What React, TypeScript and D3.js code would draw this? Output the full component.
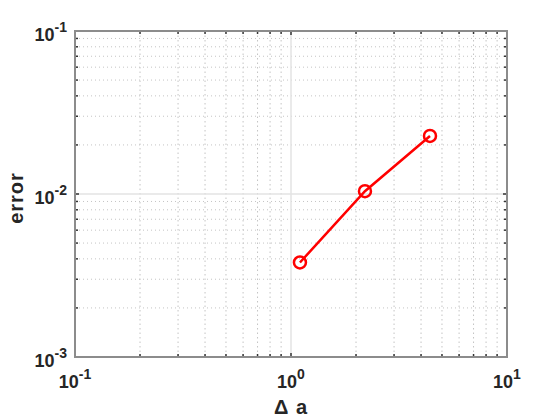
import * as d3 from "d3";
import { useEffect, useRef } from "react";

// data
const deltaA = [1.1, 2.2, 4.4];
const errorVals = [0.0038, 0.0104, 0.0227];
const xExponents = [-1, 0, 1];
const yExponents = [-3, -2, -1];

const App = () => {
  const svgRef = useRef<SVGSVGElement>(null);

  const renderSVG = () => {
    const dims = {
      width: 560,
      height: 420,
      margin: { top: 31, left: 75, right: 53, bottom: 63 },
    };
    const innerWidth = dims.width - dims.margin.left - dims.margin.right;
    const innerHeight = dims.height - dims.margin.top - dims.margin.bottom;

    const xScale = d3.scaleLog().domain([0.1, 10]).range([0, innerWidth]);
    const yScale = d3.scaleLog().domain([0.001, 0.1]).range([innerHeight, 0]);

    const isMajor = (v: number) => Math.abs(Math.log10(v) - Math.round(Math.log10(v))) < 1e-9;
    const xMinor = xScale.ticks().filter((v) => !isMajor(v));
    const yMinor = yScale.ticks().filter((v) => !isMajor(v));
    const xMajor = xExponents.map((e) => Math.pow(10, e));
    const yMajor = yExponents.map((e) => Math.pow(10, e));

    const root = d3.select(svgRef.current);
    root.selectAll("*").remove();
    root.attr("width", dims.width).attr("height", dims.height);

    const svg = root
      .append("g")
      .attr("transform", `translate(${dims.margin.left},${dims.margin.top})`);

    const gridColor = "#c4c4c4";

    // minor grid (dotted)
    svg
      .selectAll("line.xminor")
      .data(xMinor)
      .enter()
      .append("line")
      .attr("x1", (d) => xScale(d))
      .attr("x2", (d) => xScale(d))
      .attr("y1", 0)
      .attr("y2", innerHeight)
      .attr("stroke", gridColor)
      .attr("stroke-width", 1)
      .attr("stroke-dasharray", "1.5,3");
    svg
      .selectAll("line.yminor")
      .data(yMinor)
      .enter()
      .append("line")
      .attr("x1", 0)
      .attr("x2", innerWidth)
      .attr("y1", (d) => yScale(d))
      .attr("y2", (d) => yScale(d))
      .attr("stroke", gridColor)
      .attr("stroke-width", 1)
      .attr("stroke-dasharray", "1,3");

    // major grid (solid)
    svg
      .selectAll("line.xmajor")
      .data(xMajor)
      .enter()
      .append("line")
      .attr("x1", (d) => xScale(d))
      .attr("x2", (d) => xScale(d))
      .attr("y1", 0)
      .attr("y2", innerHeight)
      .attr("stroke", "#e3e3e3")
      .attr("stroke-width", 1.5);
    svg
      .selectAll("line.ymajor")
      .data(yMajor)
      .enter()
      .append("line")
      .attr("x1", 0)
      .attr("x2", innerWidth)
      .attr("y1", (d) => yScale(d))
      .attr("y2", (d) => yScale(d))
      .attr("stroke", "#e3e3e3")
      .attr("stroke-width", 1.5);

    // ticks, inside, on all four sides
    const tickColor = "#333333";
    const allX = xScale.ticks();
    const allY = yScale.ticks();
    const tickLen = (v: number) => (isMajor(v) ? 4 : 3);
    allX.forEach((v) => {
      svg.append("line")
        .attr("x1", xScale(v)).attr("x2", xScale(v))
        .attr("y1", innerHeight).attr("y2", innerHeight - tickLen(v))
        .attr("stroke", tickColor).attr("stroke-width", 1.5);
      svg.append("line")
        .attr("x1", xScale(v)).attr("x2", xScale(v))
        .attr("y1", 0).attr("y2", tickLen(v))
        .attr("stroke", tickColor).attr("stroke-width", 1.5);
    });
    allY.forEach((v) => {
      svg.append("line")
        .attr("x1", 0).attr("x2", tickLen(v))
        .attr("y1", yScale(v)).attr("y2", yScale(v))
        .attr("stroke", tickColor).attr("stroke-width", 1.5);
      svg.append("line")
        .attr("x1", innerWidth).attr("x2", innerWidth - tickLen(v))
        .attr("y1", yScale(v)).attr("y2", yScale(v))
        .attr("stroke", tickColor).attr("stroke-width", 1.5);
    });

    // axes box
    svg
      .append("rect")
      .attr("x", 0)
      .attr("y", 0)
      .attr("width", innerWidth)
      .attr("height", innerHeight)
      .attr("fill", "none")
      .attr("stroke", "#8c8c8c")
      .attr("stroke-width", 2);

    // tick labels
    const font = "Liberation Sans, Arial, sans-serif";
    const powLabel = (sel: any, e: number) => {
      sel.append("tspan").text("10");
      sel.append("tspan").attr("dy", -9).attr("font-size", 14).text(String(e));
    };
    xExponents.forEach((e) => {
      const t = svg
        .append("text")
        .attr("x", xScale(Math.pow(10, e)))
        .attr("y", innerHeight + 31)
        .attr("text-anchor", "middle")
        .attr("font-family", font)
        .attr("font-weight", "bold")
        .attr("font-size", 18)
        .attr("fill", "#262626");
      powLabel(t, e);
    });
    yExponents.forEach((e) => {
      const t = svg
        .append("text")
        .attr("x", -8)
        .attr("y", yScale(Math.pow(10, e)) + 9.5)
        .attr("text-anchor", "end")
        .attr("font-family", font)
        .attr("font-weight", "bold")
        .attr("font-size", 18)
        .attr("fill", "#262626");
      powLabel(t, e);
    });

    // axis labels
    svg
      .append("text")
      .attr("x", innerWidth / 2)
      .attr("y", innerHeight + 57)
      .attr("text-anchor", "middle")
      .attr("font-family", font)
      .attr("font-weight", "bold")
      .attr("font-size", 20)
      .attr("letter-spacing", 1)
      .attr("fill", "#262626")
      .text("\u0394 a");
    svg
      .append("text")
      .attr("transform", `translate(${23 - dims.margin.left},${innerHeight / 2 + 4}) rotate(-90)`)
      .attr("text-anchor", "middle")
      .attr("font-family", font)
      .attr("font-weight", "bold")
      .attr("font-size", 20)
      .attr("letter-spacing", 1)
      .attr("fill", "#262626")
      .text("error");

    // series
    const points = deltaA.map((x, i) => [x, errorVals[i]] as [number, number]);
    const line = d3
      .line<[number, number]>()
      .x((d) => xScale(d[0]))
      .y((d) => yScale(d[1]));
    svg
      .append("path")
      .datum(points)
      .attr("d", line)
      .attr("fill", "none")
      .attr("stroke", "#ff0000")
      .attr("stroke-width", 2.5);
    svg
      .selectAll("circle")
      .data(points)
      .enter()
      .append("circle")
      .attr("cx", (d) => xScale(d[0]))
      .attr("cy", (d) => yScale(d[1]))
      .attr("r", 6)
      .attr("fill", "none")
      .attr("stroke", "#ff0000")
      .attr("stroke-width", 2.5);
  };

  useEffect(() => {
    renderSVG();
  });

  return (
    <svg ref={svgRef} style={{ position: "absolute", left: 0, top: 0, background: "#fff" }} />
  );
};

export default App;
